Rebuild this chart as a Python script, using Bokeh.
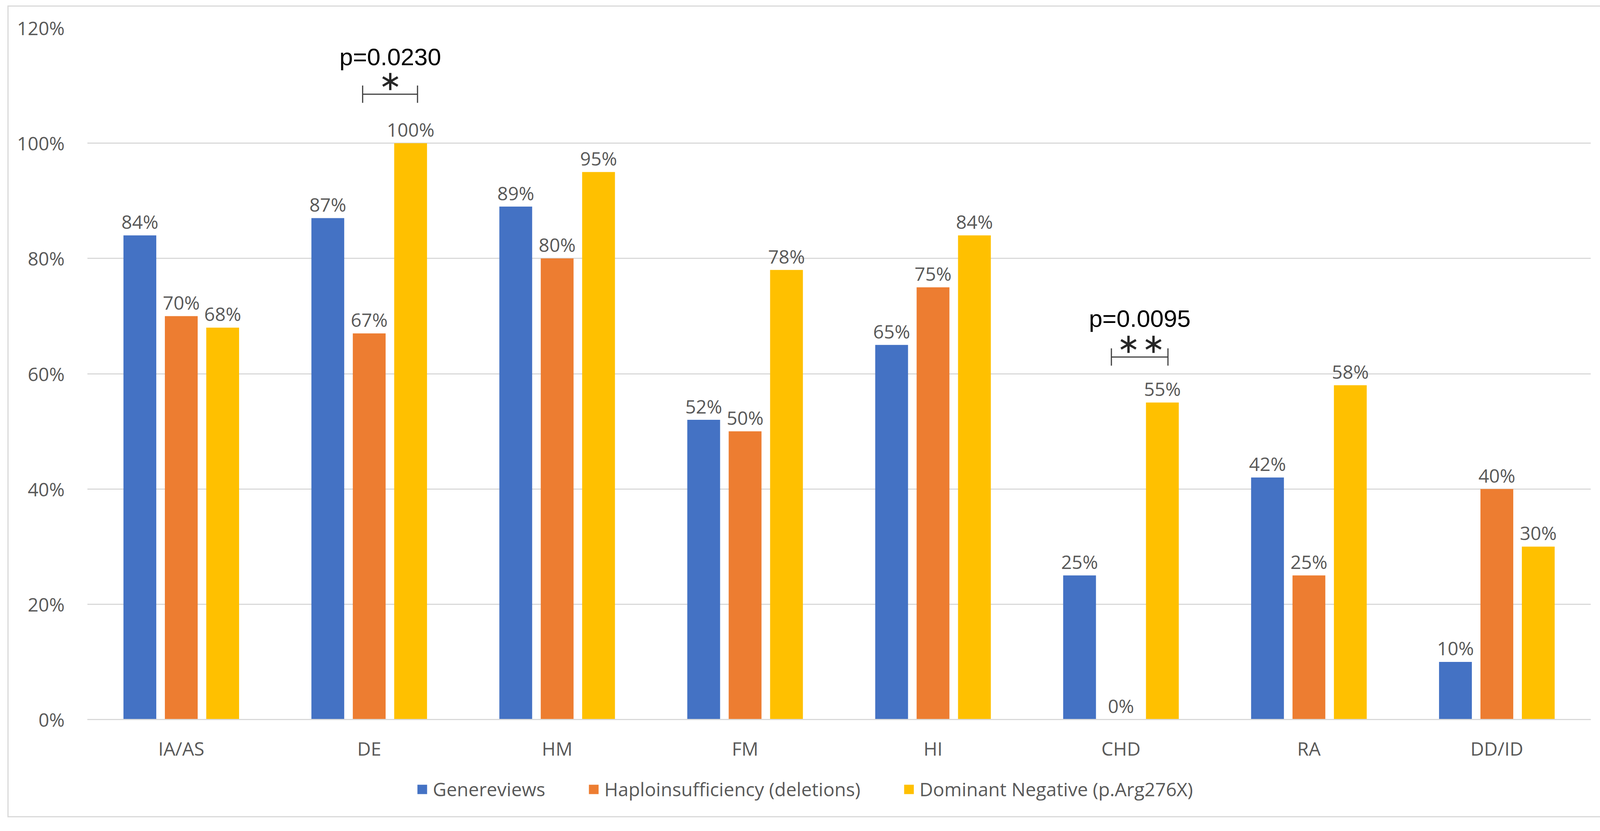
from bokeh.plotting import figure
from bokeh.layouts import column
from bokeh.models import (FactorRange, Range1d, FixedTicker, PrintfTickFormatter,
                          ColumnDataSource, Legend, LegendItem)
from bokeh.transform import dodge
from bokeh.core.properties import value
from bokeh.embed import file_html
from bokeh.resources import INLINE

categories = ["IA/AS", "DE", "HM", "FM", "HI", "CHD", "RA", "DD/ID"]
genereviews = [84, 87, 89, 52, 65, 25, 42, 10]
haploinsufficiency = [70, 67, 80, 50, 75, 0, 25, 40]
dominant_negative = [68, 100, 95, 78, 84, 55, 58, 30]
series_names = ["Genereviews", "Haploinsufficiency (deletions)", "Dominant Negative (p.Arg276X)"]
colors = ["#4472C4", "#ED7D31", "#FFC000"]
y_ticks = [0, 20, 40, 60, 80, 100, 120]

# significance annotations
sig_texts = ["p=0.0230", "p=0.0095"]
sig_text_x = [1.612, 5.600]
sig_text_y = [115.0, 69.6]
bracket_x0 = [1.465, 5.449]
bracket_x1 = [1.757, 5.750]
bracket_y = [108.5, 62.9]
bracket_tick_half = 1.5
star_x = [[1.612], [5.540, 5.673]]
star_y = [110.7, 65.1]

src = ColumnDataSource(dict(
    cat=categories,
    g=genereviews, h=haploinsufficiency, d=dominant_negative,
    gl=[f"{v}%" for v in genereviews],
    hl=[f"{v}%" for v in haploinsufficiency],
    dl=[f"{v}%" for v in dominant_negative],
))

# ---------------- main chart ----------------
p = figure(x_range=FactorRange(*categories, range_padding=0),
           y_range=Range1d(0, 120),
           width=4094, height=1935,
           output_backend="svg", toolbar_location=None,
           min_border_left=201, min_border_right=44,
           min_border_top=54, min_border_bottom=110)

p.outline_line_color = None
p.xgrid.grid_line_color = None
p.ygrid.grid_line_color = "#d9d9d9"
p.ygrid.grid_line_width = 3

p.yaxis.ticker = FixedTicker(ticks=y_ticks)
p.yaxis.formatter = PrintfTickFormatter(format="%d%%")
p.yaxis.axis_line_color = None
p.yaxis.major_tick_line_color = None
p.yaxis.minor_tick_line_color = None
p.yaxis.major_label_standoff = 52
p.yaxis.major_label_text_font = "Open Sans"
p.yaxis.major_label_text_font_size = "48px"
p.yaxis.major_label_text_color = "#595959"

p.xaxis.axis_line_color = "#d9d9d9"
p.xaxis.axis_line_width = 3
p.xaxis.major_tick_line_color = None
p.xaxis.minor_tick_line_color = None
p.xaxis.major_label_standoff = 35
p.xaxis.major_label_text_font = "Open Sans"
p.xaxis.major_label_text_font_size = "48px"
p.xaxis.major_label_text_color = "#595959"

offsets = [-0.2203, 0.0, 0.2203]
cols = ["g", "h", "d"]
lcols = ["gl", "hl", "dl"]
for off, c, lc, col in zip(offsets, cols, lcols, colors):
    p.vbar(x=dodge("cat", off, range=p.x_range), top=c, width=0.1746,
           source=src, fill_color=col, line_color=None)
    p.text(x=dodge("cat", off, range=p.x_range), y=c, text=lc, source=src,
           text_align="center", text_baseline="alphabetic", y_offset=-35,
           text_font=value("Open Sans"), text_font_size="48px", text_color="#595959")

# significance brackets
p.segment(x0=bracket_x0, y0=bracket_y, x1=bracket_x1, y1=bracket_y,
          line_color="#404040", line_width=3)
p.segment(x0=bracket_x0 + bracket_x1,
          y0=[y - bracket_tick_half for y in bracket_y] * 2,
          x1=bracket_x0 + bracket_x1,
          y1=[y + bracket_tick_half for y in bracket_y] * 2,
          line_color="#404040", line_width=3)
p.text(x=sig_text_x, y=sig_text_y, text=sig_texts, text_align="center",
       text_baseline="alphabetic", text_font=value("Liberation Sans"),
       text_font_size="62px", text_color="#000000")

rx, ry, ra = [], [], []
for xs, yv in zip(star_x, star_y):
    for xv in xs:
        for a in [30, 90, 150, 210, 270, 330]:
            rx.append(xv)
            ry.append(yv)
            ra.append(a)
p.ray(x=rx, y=ry, length=22, length_units="screen", angle=ra, angle_units="deg",
      line_color="#262626", line_width=6)

# ---------------- legend strip ----------------
lg = figure(width=4094, height=138, x_range=Range1d(0, 1), y_range=Range1d(0, 1),
            output_backend="svg", toolbar_location=None,
            x_axis_type=None, y_axis_type=None,
            min_border_left=0, min_border_right=0, min_border_top=0, min_border_bottom=0)
lg.outline_line_color = None
lg.xgrid.grid_line_color = None
lg.ygrid.grid_line_color = None
# zero-height proxy bars that only feed the legend swatches
legend_renderers = [lg.vbar(x=[0.5], top=[0], bottom=[0], width=0.0, fill_color=col,
                            line_color=None) for col in colors]
legend = Legend(items=[LegendItem(label=n, renderers=[r]) for n, r in zip(series_names, legend_renderers)],
                location=(842, 37), orientation="horizontal",
                glyph_width=31, glyph_height=30, label_standoff=12, spacing=108,
                padding=0, margin=0, border_line_color=None, background_fill_alpha=0,
                label_text_font="Open Sans", label_text_font_size="48px",
                label_text_color="#595959", label_text_baseline="middle")
lg.add_layout(legend)

layout = column(p, lg, spacing=0, margin=(14, 0, 0, 19),
                styles={"border": "3px solid #d9d9d9"})

open("out.html", "w").write(file_html(layout, INLINE))
